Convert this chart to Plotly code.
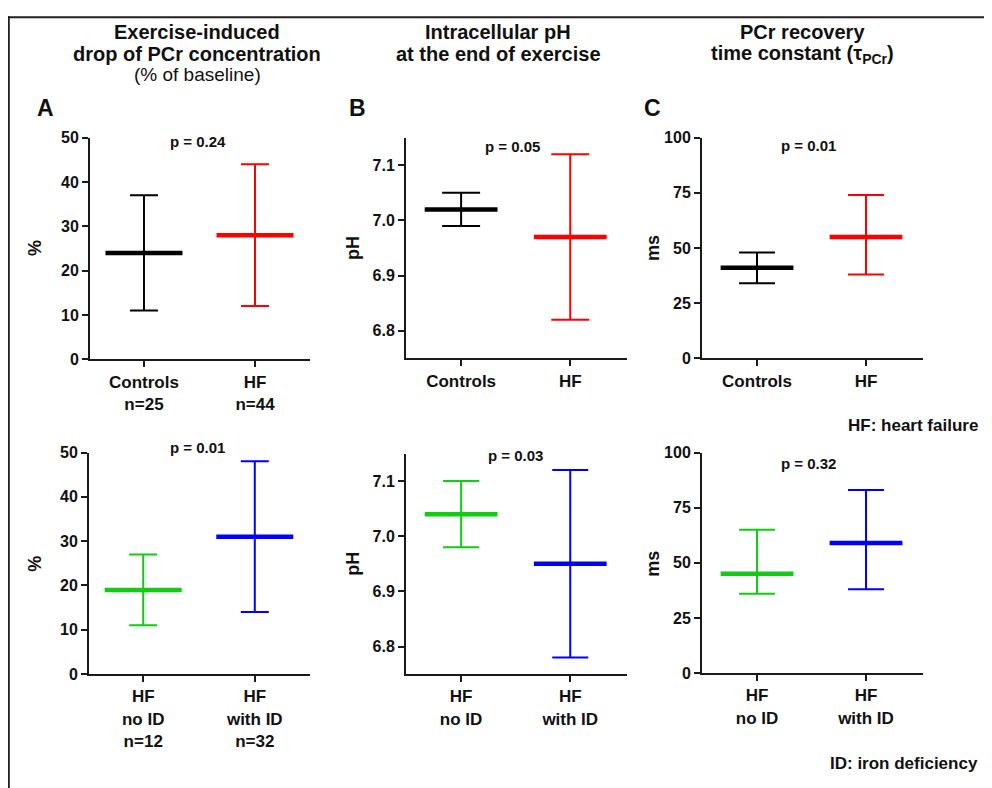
import plotly.graph_objects as go

# The page places the figure 8px in from the left and maps figure rows to
# screen rows as  screen_y = SY * (fig_y + YOFF); reference pixel positions
# are converted through the helpers below.
REF_W, REF_H = 992, 788
XOFF = 8
SY = 0.976
YOFF = 17
W = REF_W - 2 * XOFF
H = 790

# ---------------- data ----------------
pcr_top_groups = ["Controls<br>n=25", "HF<br>n=44"]
pcr_top_mean = [24, 28]
pcr_top_low = [11, 12]
pcr_top_high = [37, 44]

pcr_bot_groups = ["HF<br>no ID<br>n=12", "HF<br>with ID<br>n=32"]
pcr_bot_mean = [19, 31]
pcr_bot_low = [11, 14]
pcr_bot_high = [27, 48]

ph_top_groups = ["Controls", "HF"]
ph_top_mean = [7.02, 6.97]
ph_top_low = [6.99, 6.82]
ph_top_high = [7.05, 7.12]

ph_bot_groups = ["HF<br>no ID", "HF<br>with ID"]
ph_bot_mean = [7.04, 6.95]
ph_bot_low = [6.98, 6.78]
ph_bot_high = [7.10, 7.12]

tau_top_groups = ["Controls", "HF"]
tau_top_mean = [41, 55]
tau_top_low = [34, 38]
tau_top_high = [48, 74]

tau_bot_groups = ["HF<br>no ID", "HF<br>with ID"]
tau_bot_mean = [45, 59]
tau_bot_low = [36, 38]
tau_bot_high = [65, 83]

top_colors = ["#000000", "#ff0000"]
bot_colors = ["#11cc11", "#0000ff"]

p_values = ["p = 0.24", "p = 0.05", "p = 0.01", "p = 0.01", "p = 0.03", "p = 0.32"]

pcr_ticks = [0, 10, 20, 30, 40, 50]
ph_ticks = [6.8, 6.9, 7.0, 7.1]
tau_ticks = [0, 25, 50, 75, 100]

# ---------------- helpers ----------------
def px(x):
    return (x - XOFF) / W

def py(y):
    return 1 - (y / SY - YOFF) / H

FONT = "Liberation Sans, Arial, sans-serif"
AX = "#1a1a1a"

fig = go.Figure()

panels = [
    (1, pcr_top_groups, pcr_top_mean, pcr_top_low, pcr_top_high, top_colors, (90, 310), (138, 359), [0, 50], pcr_ticks, [-0.486, 1.495], 14, 55),
    (2, ph_top_groups, ph_top_mean, ph_top_low, ph_top_high, top_colors, (406, 627), (138, 358), [6.75, 7.15], ph_ticks, [-0.505, 1.52], 19, 52),
    (3, tau_top_groups, tau_top_mean, tau_top_low, tau_top_high, top_colors, (702, 923), (138, 358), [0, 100], tau_ticks, [-0.505, 1.523], 18, 52),
    (4, pcr_bot_groups, pcr_bot_mean, pcr_bot_low, pcr_bot_high, bot_colors, (89, 310), (452, 673), [0, 50], pcr_ticks, [-0.486, 1.495], 14, 55),
    (5, ph_bot_groups, ph_bot_mean, ph_bot_low, ph_bot_high, bot_colors, (406, 627), (453, 673), [6.75, 7.15], ph_ticks, [-0.505, 1.52], 18, 52),
    (6, tau_bot_groups, tau_bot_mean, tau_bot_low, tau_bot_high, bot_colors, (702, 923), (452, 672), [0, 100], tau_ticks, [-0.505, 1.523], 18, 52),
]

layout_axes = {}
for (idx, groups, mean, low, high, colors, xp, yp, yr, yt, xr, capw, msize) in panels:
    xa = "x" if idx == 1 else f"x{idx}"
    ya = "y" if idx == 1 else f"y{idx}"
    for i in range(len(groups)):
        fig.add_trace(go.Scatter(
            x=[i], y=[mean[i]],
            xaxis=xa, yaxis=ya,
            mode="markers",
            marker=dict(symbol="line-ew", size=msize,
                        line=dict(color=colors[i], width=4.5)),
            error_y=dict(type="data", symmetric=False,
                         array=[high[i] - mean[i]],
                         arrayminus=[mean[i] - low[i]],
                         color=colors[i], thickness=2, width=capw),
            showlegend=False, hoverinfo="skip",
        ))
    xname = "xaxis" if idx == 1 else f"xaxis{idx}"
    yname = "yaxis" if idx == 1 else f"yaxis{idx}"
    layout_axes[xname] = dict(
        domain=[px(xp[0]), px(xp[1])], range=xr, anchor=ya,
        tickmode="array", tickvals=list(range(len(groups))), ticktext=groups,
        showline=True, linecolor=AX, linewidth=2, mirror=False,
        ticks="outside", ticklen=6, tickwidth=2, tickcolor=AX,
        showgrid=False, zeroline=False,
        tickfont=dict(family=FONT, size=17, color="#111", weight="bold"),
    )
    layout_axes[yname] = dict(
        domain=[py(yp[1]), py(yp[0])], range=yr, anchor=xa,
        tickmode="array", tickvals=yt,
        tickformat=".1f" if yr[0] > 5 else "d",
        showline=True, linecolor=AX, linewidth=2,
        ticks="outside", ticklen=6, tickwidth=2, tickcolor=AX,
        showgrid=False, zeroline=False,
        tickfont=dict(family=FONT, size=16, color="#111", weight="bold"),
    )

fig.update_layout(**layout_axes)

ann = []

def add_text(x, y, text, size, bold=True, xanchor="center", angle=0):
    ann.append(dict(
        x=px(x), y=py(y), xref="paper", yref="paper", text=text,
        showarrow=False, xanchor=xanchor, yanchor="middle", textangle=angle,
        font=dict(family=FONT, size=size, color="#111",
                  weight="bold" if bold else "normal"),
    ))

# headers
add_text(197, 33, "Exercise-induced", 20)
add_text(197, 54, "drop of PCr concentration", 20)
add_text(197, 75, "(% of baseline)", 19, bold=False)
add_text(498, 33, "Intracellular pH", 20)
add_text(498, 54, "at the end of exercise", 20)
add_text(802, 33, "PCr recovery", 20)
add_text(802, 55, "time constant (τ<sub>PCr</sub>)", 20)

# panel letters
add_text(45, 108, "A", 23)
add_text(357, 108, "B", 23)
add_text(652, 108, "C", 23)

# p values
p_pos = [(198, 142), (512, 147), (808, 146), (197, 447), (515, 455), (808, 463)]
for (x, y), t in zip(p_pos, p_values):
    add_text(x, y, t, 15)

# axis titles
for y0 in (248, 563):
    add_text(35, y0, "%", 18, angle=-90)
    add_text(353, y0, "pH", 18, angle=-90)
    add_text(653, y0, "ms", 18, angle=-90)

# footnotes
add_text(980, 425, "HF: heart failure", 17, xanchor="right")
add_text(980, 762, "ID: iron deficiency", 17, xanchor="right")

# image frame (left and top edges)
shapes = [
    dict(type="line", xref="paper", yref="paper", x0=0.8 / W, x1=0.8 / W,
         y0=1, y1=0, line=dict(color="#231f20", width=2)),
    dict(type="line", xref="paper", yref="paper", x0=0, x1=1,
         y0=1 - 1.2 / H, y1=1 - 1.2 / H, line=dict(color="#231f20", width=2)),
]

fig.update_layout(
    width=W, height=H,
    margin=dict(l=0, r=0, t=0, b=0),
    paper_bgcolor="white", plot_bgcolor="white",
    annotations=ann, shapes=shapes,
    showlegend=False,
    font=dict(family=FONT, color="#111"),
)

fig.write_html("out.html")
